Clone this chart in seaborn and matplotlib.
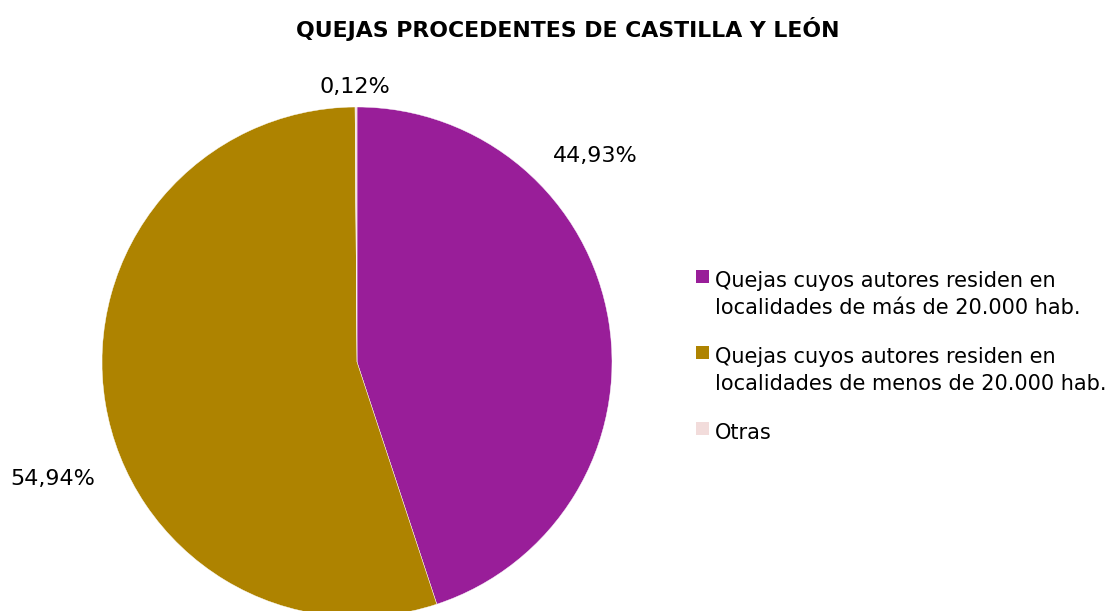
import matplotlib.pyplot as plt
from matplotlib.patches import Rectangle
import seaborn as sns

categories = [
    "Quejas cuyos autores residen en\nlocalidades de más de 20.000 hab.",
    "Quejas cuyos autores residen en\nlocalidades de menos de 20.000 hab.",
    "Otras",
]
values = [44.93, 54.94, 0.12]
pct_labels = ["44,93%", "54,94%", "0,12%"]
colors = ["#991e99", "#ae8300", "#f2dcdb"]

sns.set_theme(style="white")
plt.rcParams['font.family'] = ['DejaVu Sans']

W, H = 1112, 611
fig = plt.figure(figsize=(W / 100, H / 100), dpi=100)
# axes in pixel units so the pie can run past the bottom edge like the original
ax = fig.add_axes([0, 0, 1, 1])

wedges, _ = ax.pie(
    values,
    colors=colors,
    startangle=90,
    counterclock=False,
    center=(357, H - 362),
    radius=255,
    wedgeprops=dict(edgecolor="white", linewidth=0.3),
    frame=True,
)
ax.set_xlim(0, W)
ax.set_ylim(0, H)
ax.axis("off")

# label positions (Excel "best fit"), baseline in pixels from top
label_pos = [(595.5, 162), (53, 485), (355, 93)]
for txt, (x, y) in zip(pct_labels, label_pos):
    ax.text(x, H - y, txt, ha="center", va="baseline", fontsize=16, color="black")

ax.text(567.5, H - 37, "QUEJAS PROCEDENTES DE CASTILLA Y LEÓN", ha="center",
        va="baseline", fontsize=15.8, fontweight="bold", color="black")

# legend drawn by hand: square beside the first line of each entry
y = 287
for lab, col in zip(categories, colors):
    ax.add_patch(Rectangle((696, H - y + 4), 13, 13, facecolor=col, edgecolor="none"))
    for line in lab.split("\n"):
        ax.text(715, H - y, line, ha="left", va="baseline", fontsize=15, color="black")
        y += 27
    y += 22

fig.savefig("out.png", dpi=100)
